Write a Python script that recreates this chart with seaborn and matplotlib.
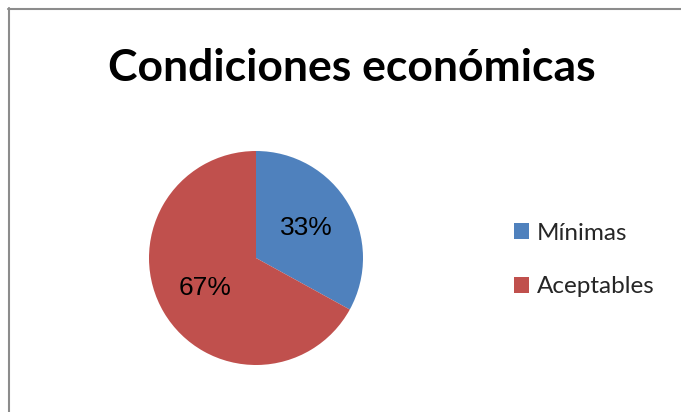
import matplotlib
matplotlib.use("Agg")
import matplotlib.pyplot as plt
from matplotlib.lines import Line2D
from matplotlib.patches import Patch
import seaborn as sns

# Survey result: perceived economic conditions
categories = ["Mínimas", "Aceptables"]
shares = [33, 67]
title = "Condiciones económicas"

sns.set_theme(style="white")
plt.rcParams["font.family"] = ["Lato", "DejaVu Sans"]

colors = ["#4F81BD", "#C0504D"]

W, H = 681, 412
fig = plt.figure(figsize=(W / 100, H / 100), dpi=100)
fig.patch.set_facecolor("white")

# Pie axes: centre (256, 258) px, radius ~107 px
cx, cy, r = 256, 258, 107
ax = fig.add_axes([(cx - r) / W, (H - cy - r) / H, 2 * r / W, 2 * r / H])
wedges, texts, autotexts = ax.pie(
    shares,
    colors=colors,
    startangle=90,
    counterclock=False,
    autopct="%1.0f%%",
    pctdistance=0.55,
    radius=1.0,
    wedgeprops=dict(linewidth=0),
    textprops=dict(fontsize=19, family=["Liberation Sans", "DejaVu Sans"], color="black"),
)
ax.set_xlim(-1, 1)
ax.set_ylim(-1, 1)
ax.set_aspect("equal")
ax.axis("off")

fig.text(352 / W, 1 - 68 / H, title, ha="center", va="center",
         fontsize=32, fontweight="bold", color="black")

handles = [Patch(facecolor=c, edgecolor="none") for c in colors]
fig.legend(handles, categories, loc="center left",
           bbox_to_anchor=(514 / W, 1 - 260 / H), frameon=False,
           borderpad=0, borderaxespad=0,
           fontsize=17.5, handlelength=0.6, handleheight=0.6,
           handletextpad=0.35, labelspacing=1.35)

# Outer chart frame (top and left edges visible)
fig.add_artist(Line2D([8 / W, 1.0], [1 - 8.5 / H, 1 - 8.5 / H],
                      transform=fig.transFigure, color="#8C8C8C", linewidth=1.5))
fig.add_artist(Line2D([8.5 / W, 8.5 / W], [0.0, 1 - 8 / H],
                      transform=fig.transFigure, color="#8C8C8C", linewidth=1.5))

fig.savefig("out.png", dpi=100, facecolor="white")
